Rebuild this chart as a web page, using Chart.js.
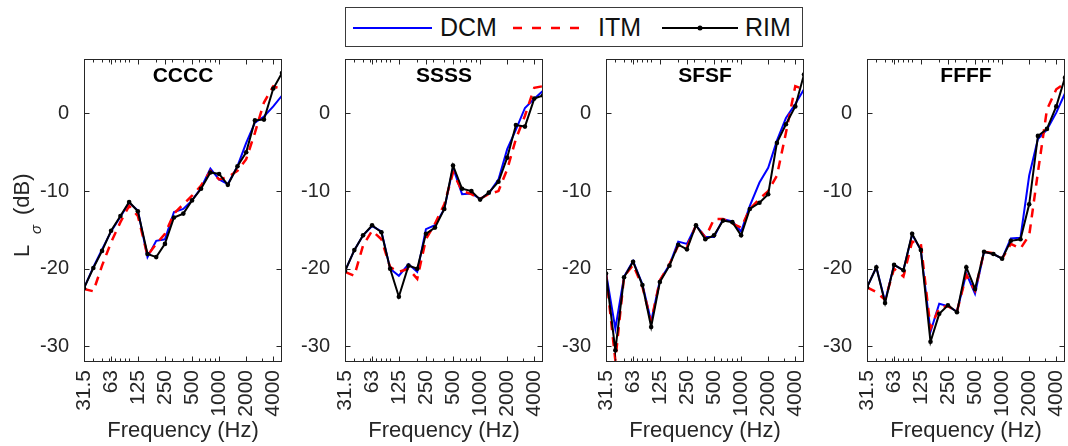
<!DOCTYPE html>
<html>
<head>
<meta charset="utf-8">
<script src="https://cdn.jsdelivr.net/npm/chart.js@4.4.0/dist/chart.umd.min.js"></script>
<style>
html,body{margin:0;padding:0;background:#fff;}
body{width:1068px;height:446px;overflow:hidden;position:relative;font-family:"Liberation Sans",Arial,sans-serif;color:#262626;}
canvas.pc{position:absolute;top:50px;}
#legend{position:absolute;left:345px;top:7px;width:456px;height:38px;border:1px solid #3a3a3a;background:#fff;}
#legend svg{position:absolute;left:0;top:0;}
#legend span{position:absolute;top:7px;font-size:25px;line-height:25px;color:#111;white-space:nowrap;}
</style>
</head>
<body>
<div id="legend">
  <svg width="456" height="38">
    <line x1="7" y1="20" x2="86" y2="20" stroke="#0000ff" stroke-width="2"/>
    <line x1="167" y1="20" x2="239" y2="20" stroke="#ff0000" stroke-width="2.5" stroke-dasharray="9,10"/>
    <line x1="316" y1="20" x2="392" y2="20" stroke="#000" stroke-width="2"/>
    <circle cx="354" cy="20" r="2.5" fill="#000"/>
  </svg>
  <span style="left:94px">DCM</span>
  <span style="left:252px">ITM</span>
  <span style="left:399px">RIM</span>
</div>
<canvas class="pc" id="c0" width="286" height="396" style="left:0px"></canvas>
<canvas class="pc" id="c1" width="286" height="396" style="left:261px"></canvas>
<canvas class="pc" id="c2" width="286" height="396" style="left:522px"></canvas>
<canvas class="pc" id="c3" width="286" height="396" style="left:783px"></canvas>
<script>
// ---- data ----
const FREQS = [31.5, 40, 50, 63, 80, 100, 125, 160, 200, 250, 315, 400, 500, 630, 800, 1000, 1250, 1600, 2000, 2500, 3150, 4000, 5000];
const X_TICKS = [31.5, 63, 125, 250, 500, 1000, 2000, 4000];
const X_TICK_LABELS = ['31.5', '63', '125', '250', '500', '1000', '2000', '4000'];
const X_MINOR = [40, 50, 60, 70, 80, 90, 100, 200, 300, 400, 600, 700, 800, 900, 3000];
const Y_TICKS = [-30, -20, -10, 0];
const PANEL_TITLES = ['CCCC', 'SSSS', 'SFSF', 'FFFF'];
const SERIES_NAMES = ['DCM', 'ITM', 'RIM'];

const CCCC_DCM = [-22.5, -19.8, -17.5, -15.2, -13.3, -11.5, -12.5, -18.5, -16.4, -16.2, -12.7, -12.3, -11.2, -9.6, -7.1, -8.5, -9.1, -6.8, -3.8, -1.2, -0.4, 0.9, 2.3];
const CCCC_ITM = [-22.6, -22.9, -19.6, -16.6, -14.0, -11.9, -13.2, -18.3, -16.8, -15.5, -12.9, -11.7, -10.6, -9.3, -7.4, -8.5, -8.2, -7.4, -5.9, -2.5, 1.4, 3.5, 3.1];
const CCCC_RIM = [-22.5, -19.9, -17.7, -15.1, -13.2, -11.4, -12.6, -18.1, -18.5, -16.8, -13.4, -12.9, -11.2, -9.7, -7.6, -7.8, -9.2, -6.8, -5.0, -0.9, -0.8, 3.2, 5.2];

const SSSS_DCM = [-20.3, -17.6, -15.7, -14.5, -15.2, -20.0, -20.9, -19.4, -20.4, -14.9, -14.4, -12.3, -7.0, -10.4, -10.3, -11.0, -10.3, -8.5, -4.6, -2.1, 0.7, 1.9, 2.9];
const SSSS_ITM = [-20.4, -20.9, -17.0, -15.1, -16.2, -19.8, -20.4, -20.0, -21.3, -16.2, -14.2, -11.7, -7.6, -10.0, -10.4, -11.0, -10.4, -10.0, -7.2, -3.3, -0.3, 3.3, 3.5];
const SSSS_RIM = [-20.3, -17.6, -15.7, -14.4, -15.3, -20.0, -23.6, -19.6, -20.0, -15.5, -14.7, -12.3, -6.7, -9.7, -10.0, -11.1, -10.2, -8.8, -5.7, -1.5, -1.7, 1.9, 2.3];

const SFSF_DCM = [-20.5, -27.7, -21.0, -19.0, -22.0, -26.8, -21.5, -19.5, -16.5, -16.8, -14.4, -15.9, -15.9, -13.6, -13.9, -15.2, -11.9, -8.9, -7.0, -3.5, -0.6, 1.2, 3.1];
const SFSF_ITM = [-20.6, -31.8, -21.0, -19.5, -22.3, -26.8, -21.5, -19.4, -17.0, -17.2, -14.4, -16.0, -13.6, -13.6, -14.2, -14.7, -12.3, -11.0, -10.0, -8.0, -2.5, 3.5, 3.1];
const SFSF_RIM = [-20.6, -30.5, -21.1, -19.1, -22.1, -27.5, -21.7, -19.6, -16.9, -17.5, -14.4, -16.2, -15.7, -13.8, -14.0, -15.7, -12.3, -11.5, -10.4, -3.8, -1.4, 0.9, 5.0];

const FFFF_DCM = [-22.4, -19.8, -24.2, -19.5, -20.2, -15.6, -17.6, -28.1, -24.5, -24.8, -25.5, -20.6, -23.2, -17.8, -18.1, -18.7, -16.1, -16.0, -8.0, -3.3, -2.1, 0.1, 2.6];
const FFFF_ITM = [-22.4, -23.0, -24.0, -20.0, -21.0, -16.5, -16.8, -27.7, -25.0, -24.8, -25.5, -20.8, -22.8, -17.8, -18.0, -18.7, -16.8, -17.4, -15.7, -7.6, 0.5, 3.1, 3.9];
const FFFF_RIM = [-22.4, -19.8, -24.4, -19.5, -20.2, -15.5, -17.6, -29.4, -25.8, -24.7, -25.6, -19.8, -22.6, -17.8, -18.1, -18.7, -16.4, -16.2, -11.7, -2.9, -2.0, 0.9, 4.6];

const PANELS = [
  [CCCC_DCM, CCCC_ITM, CCCC_RIM],
  [SSSS_DCM, SSSS_ITM, SSSS_RIM],
  [SFSF_DCM, SFSF_ITM, SFSF_RIM],
  [FFFF_DCM, FFFF_ITM, FFFF_RIM]
];

// ---- drawing ----
const FONT = '"Liberation Sans", Arial, sans-serif';
const AX = '#262626';

const framePlugin = {
  id: 'frame',
  afterDraw(chart, args, opts) {
    const {ctx, chartArea: a, scales: {x, y}} = chart;
    ctx.save();
    ctx.strokeStyle = AX;
    ctx.lineWidth = 1;
    const L = Math.round(a.left) + 0.5, R = Math.round(a.right) - 0.5;
    const T = Math.round(a.top) + 0.5, B = Math.round(a.bottom) - 0.5;
    ctx.strokeRect(L, T, R - L, B - T);
    ctx.beginPath();
    X_TICKS.forEach(v => {
      const px = Math.round(x.getPixelForValue(v)) + 0.5;
      ctx.moveTo(px, B); ctx.lineTo(px, B - 5);
      ctx.moveTo(px, T); ctx.lineTo(px, T + 5);
    });
    X_MINOR.forEach(v => {
      const px = Math.round(x.getPixelForValue(v)) + 0.5;
      ctx.moveTo(px, B); ctx.lineTo(px, B - 3);
      ctx.moveTo(px, T); ctx.lineTo(px, T + 3);
    });
    Y_TICKS.forEach(v => {
      const py = Math.round(y.getPixelForValue(v)) + 0.5;
      ctx.moveTo(L, py); ctx.lineTo(L + 5, py);
      ctx.moveTo(R, py); ctx.lineTo(R - 5, py);
    });
    ctx.stroke();
    // panel title
    ctx.fillStyle = '#000';
    ctx.font = 'bold 21px ' + FONT;
    ctx.textAlign = 'center';
    ctx.textBaseline = 'alphabetic';
    ctx.fillText(opts.title, (a.left + a.right) / 2, a.top + 23);
    // y axis title with subscript
    if (opts.yTitle) {
      ctx.fillStyle = AX;
      ctx.translate(29, 0);
      ctx.rotate(-Math.PI / 2);
      ctx.textAlign = 'left';
      ctx.font = '22px ' + FONT;
      ctx.fillText('L', -207, 0);
      ctx.font = 'italic 15px ' + FONT;
      ctx.fillText('\u03C3', -184, 12);
      ctx.font = '22px ' + FONT;
      ctx.fillText('(dB)', -165, 0);
    }
    ctx.restore();
  }
};

function noPad(s) {
  s.paddingLeft = 0; s.paddingRight = 0; s.paddingTop = 0; s.paddingBottom = 0;
}

function makePanel(i) {
  const [dcm, itm, rim] = PANELS[i];
  const pts = arr => FREQS.map((f, k) => ({x: f, y: arr[k]}));
  new Chart(document.getElementById('c' + i), {
    type: 'line',
    data: {
      datasets: [
        {label: SERIES_NAMES[0], data: pts(dcm), borderColor: '#0000ff', backgroundColor: '#0000ff', borderWidth: 2, pointRadius: 0, order: 3},
        {label: SERIES_NAMES[1], data: pts(itm), borderColor: '#ff0000', backgroundColor: '#ff0000', borderWidth: 2.5, borderDash: [9, 7], pointRadius: 0, order: 2},
        {label: SERIES_NAMES[2], data: pts(rim), borderColor: '#000000', backgroundColor: '#000000', borderWidth: 2, pointRadius: 2.3, pointBorderWidth: 0, order: 1}
      ]
    },
    options: {
      responsive: false,
      animation: false,
      devicePixelRatio: 1,
      layout: {padding: {top: 9, right: 1, left: 0, bottom: 0}},
      plugins: {
        legend: {display: false},
        tooltip: {enabled: false},
        frame: {title: PANEL_TITLES[i], yTitle: i === 0}
      },
      scales: {
        x: {
          type: 'logarithmic', min: 31.5, max: 5000, bounds: 'data',
          grid: {display: false}, border: {display: false},
          afterBuildTicks: s => { s.ticks = X_TICKS.map(v => ({value: v})); },
          afterFit: s => { s.height = 84; noPad(s); },
          ticks: {
            autoSkip: false, maxRotation: 90, minRotation: 90, padding: 0,
            color: AX, font: {family: FONT, size: 21},
            callback: (v, k) => X_TICK_LABELS[k]
          },
          title: {display: true, text: 'Frequency (Hz)', color: AX, font: {family: FONT, size: 22}, padding: {top: 0, bottom: 2}}
        },
        y: {
          min: -32, max: 7,
          grid: {display: false}, border: {display: false},
          afterBuildTicks: s => { s.ticks = Y_TICKS.map(v => ({value: v})); },
          afterFit: s => { s.width = 84; noPad(s); },
          ticks: {padding: 7, color: AX, font: {family: FONT, size: 20}}
        }
      }
    },
    plugins: [framePlugin]
  });
}
for (let i = 0; i < 4; i++) makePanel(i);
</script>
</body>
</html>
